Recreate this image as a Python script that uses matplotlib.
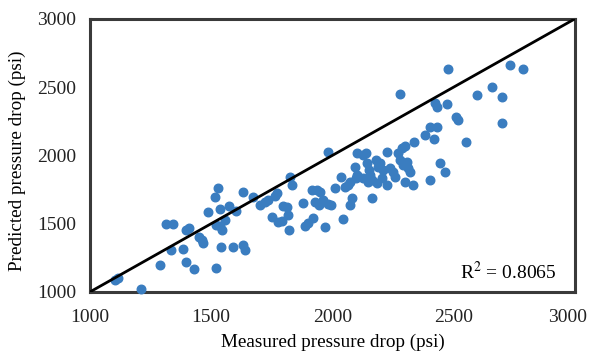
import numpy as np
import matplotlib
matplotlib.use('Agg')  # headless backend
import matplotlib.pyplot as plt
from matplotlib.transforms import ScaledTranslation

# measured vs predicted pressure drop (psi)
measured = [1103, 1115, 1210, 1289, 1313, 1342, 1334, 1384, 1396, 1429,
            1396, 1408, 1450, 1462, 1466, 1487, 1515, 1528, 1536, 1536,
            1544, 1520, 1557, 1573, 1602, 1540, 1590, 1631, 1639, 1520,
            1631, 1672, 1701, 1722, 1734, 1751, 1775, 1763, 1796, 1792,
            1817, 1821, 1833, 1825, 1878, 1887, 1899, 1920, 1916, 1936,
            1949, 1928, 1944, 1961, 1982, 1994, 1969, 1982, 2010, 2035,
            2043, 2064, 2072, 2080, 2072, 2093, 2097, 2101, 2101, 2126,
            2142, 2151, 2163, 2155, 2163, 2179, 2188, 2196, 2208, 2225,
            2225, 2237, 2250, 2258, 2270, 2287, 2299, 2278, 2291, 2307,
            2311, 2320, 2299, 2332, 2336, 2382, 2402, 2431, 2419, 2402,
            2443, 2464, 2518, 2551, 2278, 2476, 2732, 2786, 2596, 2658,
            2699, 2423, 2431, 2472, 2509, 2699, 1771, 1812, 2126, 2184,
            2204, 2146, 2138, 2052]
predicted = [1088, 1103, 1022, 1198, 1498, 1498, 1308, 1315, 1220, 1168,
             1454, 1469, 1403, 1381, 1359, 1586, 1696, 1762, 1608, 1484,
             1454, 1491, 1527, 1630, 1593, 1330, 1330, 1344, 1308, 1176,
             1733, 1696, 1637, 1659, 1674, 1549, 1513, 1703, 1630, 1520,
             1564, 1454, 1784, 1842, 1652, 1484, 1505, 1542, 1747, 1747,
             1733, 1659, 1637, 1674, 1645, 1637, 1476, 2026, 1762, 1842,
             1535, 1784, 1806, 1689, 1637, 1916, 1835, 1857, 2018, 2004,
             1945, 1894, 1821, 1857, 1689, 1967, 1916, 1945, 1894, 1784,
             2026, 1908, 1879, 1842, 2018, 2055, 2070, 1967, 1930, 1952,
             1908, 1879, 1806, 1784, 2099, 2150, 2209, 2209, 2121, 1821,
             1945, 1879, 2260, 2099, 2451, 2634, 2663, 2634, 2443, 2502,
             2429, 2385, 2355, 2377, 2282, 2238, 1725, 1623, 1835, 1799,
             1835, 1806, 2018, 1769]
r2_text = "R$^2$ = 0.8065"
ticks = [1000, 1500, 2000, 2500, 3000]

plt.rcParams['font.family'] = ['Liberation Serif', 'DejaVu Serif']
plt.rcParams['mathtext.fontset'] = 'stix'

fig = plt.figure(figsize=(5.92, 3.56), dpi=100)
ax = fig.add_axes([0.152, 0.180, 0.819, 0.767])

ax.scatter(measured, predicted, s=38, color='#3A7DC0', zorder=3, clip_on=False)
ax.plot([1000, 3000], [1000, 3000], color='black', lw=2, zorder=4)

ax.set_xlim(1000, 3000)
ax.set_ylim(1000, 3000)
ax.set_xticks(ticks)
ax.set_yticks(ticks)
ax.tick_params(axis='x', length=0, labelsize=14, pad=12, colors='#222222')
ax.tick_params(axis='y', length=0, labelsize=14, pad=10, colors='#222222')
for sp in ax.spines.values():
    sp.set_color('#3a3a3a')
    sp.set_linewidth(2.2)

# last x label sits a bit to the left so it stays inside the picture
last = ax.get_xticklabels()[-1]
last.set_transform(last.get_transform() + ScaledTranslation(-5 / 72, 0, fig.dpi_scale_trans))

ax.set_xlabel("Measured pressure drop (psi)", fontsize=13.8, labelpad=6)
ax.set_ylabel("Predicted pressure drop (psi)", fontsize=13.8)
ax.yaxis.set_label_coords(-0.132, 0.48)
ax.text(0.962, 0.072, r2_text, transform=ax.transAxes, ha='right', va='center',
        fontsize=14)

fig.savefig("out.png", dpi=100)
